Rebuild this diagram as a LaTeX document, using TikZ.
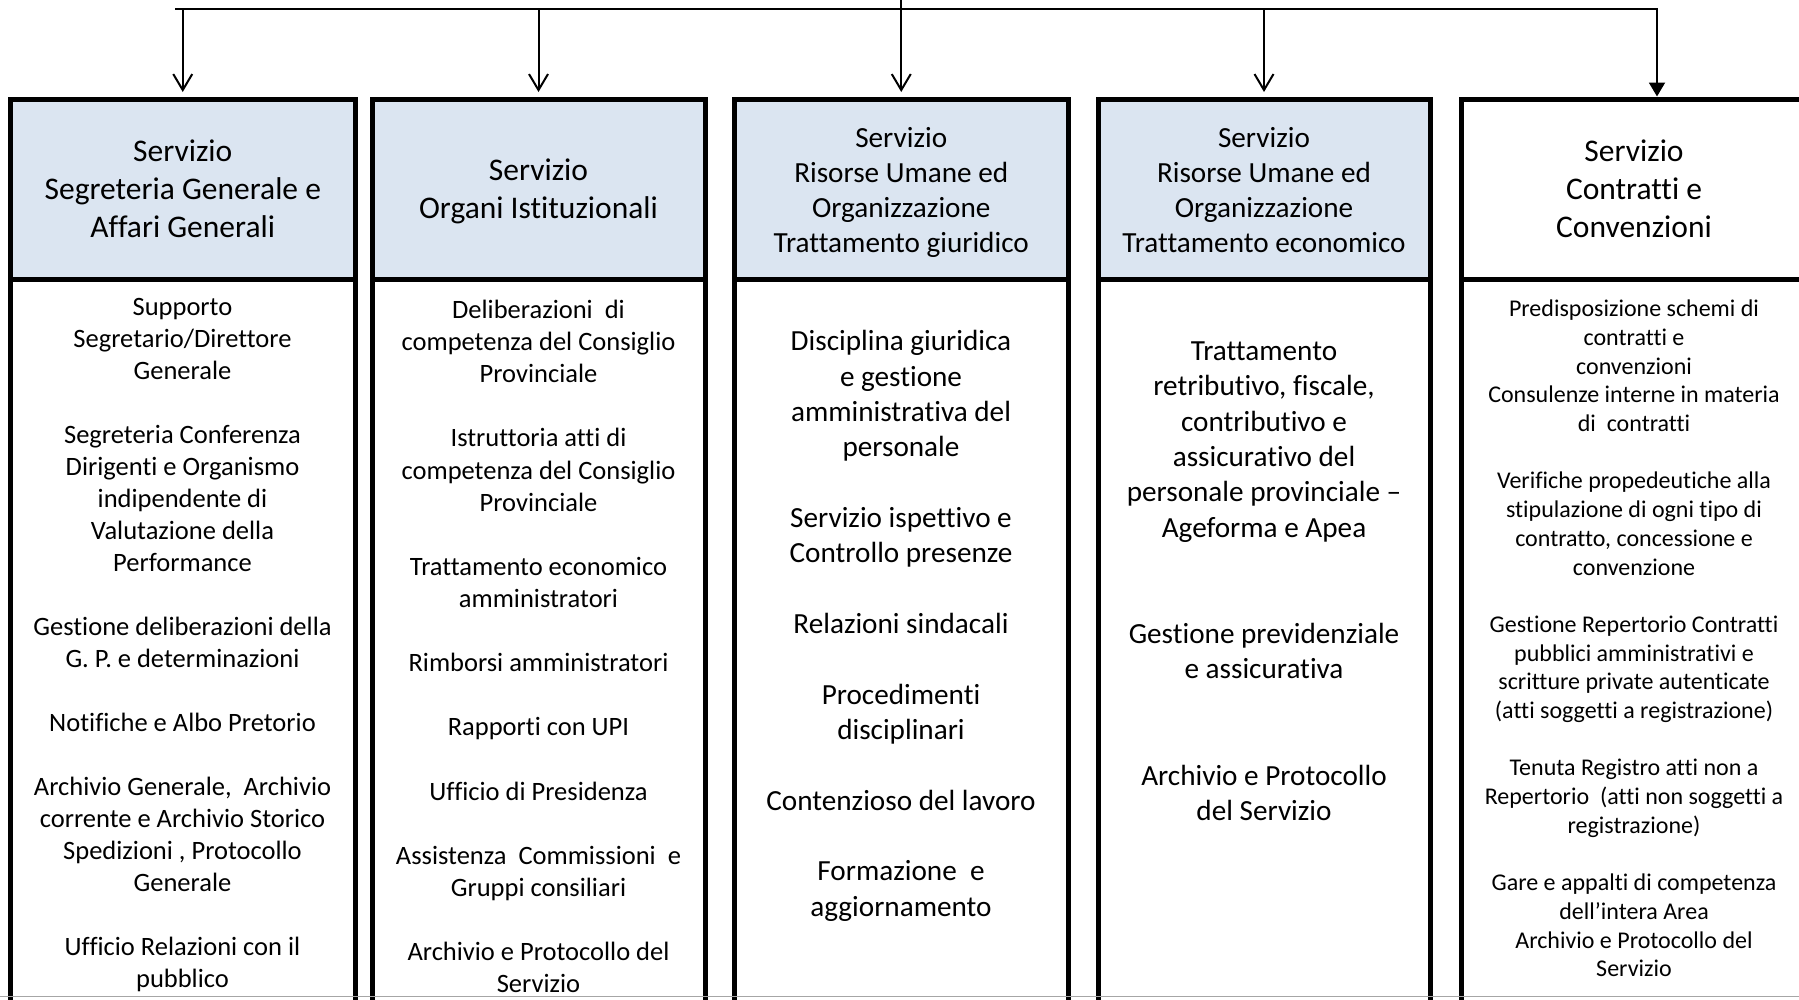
\documentclass[tikz,border=0pt]{standalone}
\usepackage{fontspec}
\setmainfont{Carlito}[Ligatures=NoCommon]
\usetikzlibrary{arrows.meta}
\definecolor{hdrblue}{RGB}{219,229,241}

\begin{document}
\begin{tikzpicture}[x=1pt,y=-1pt,
  boxline/.style={draw=black,line width=5pt},
  hdr/.style={boxline,fill=hdrblue,minimum height=180pt,inner sep=0pt,
    outer sep=0pt},
  hdrtext/.style={inner sep=0pt,align=center},
  hdrbig/.style={font=\fontsize{31.5}{38}\selectfont},
  hdrsmall/.style={font=\fontsize{29.2}{35.2}\selectfont},
  bodytext/.style={inner sep=0pt,align=center},
  conn/.style={draw=black,line width=2pt},
  openhead/.style={-{Straight Barb[length=16pt,width=19pt]},shorten >=7pt},
  fullhead/.style={-{Triangle[length=14pt,width=16pt]},shorten >=2.5pt}
]
\useasboundingbox (0,0) rectangle (1799,999);
\clip (0,0) rectangle (1799,999);

% header boxes of the five services
\node[hdr,minimum width=345.5pt] (hd1) at (182.75,189) {};
\node[hdr,minimum width=333pt] (hd2) at (538.5,189) {};
\node[hdr,minimum width=333.5pt] (hd3) at (901.25,189) {};
\node[hdr,minimum width=332pt] (hd4) at (1264,189) {};
\node[hdr,fill=white,minimum width=346pt] (hd5) at (1634,189) {};

% header titles
\node[hdrtext,hdrbig] (ht1) at (hd1.center)
  {Servizio\\Segreteria Generale e\\Affari Generali};
\node[hdrtext,hdrbig] (ht2) at ([yshift=-2.3pt]hd2.center)
  {Servizio\\Organi Istituzionali};
\node[hdrtext,hdrsmall] (ht3) at ([yshift=-3.4pt]hd3.center)
  {Servizio\\Risorse Umane ed\\Organizzazione\\Trattamento giuridico};
\node[hdrtext,hdrsmall] (ht4) at ([yshift=-1.2pt]hd4.center)
  {Servizio\\Risorse Umane ed\\Organizzazione\\Trattamento economico};
\node[hdrtext,hdrbig] (ht5) at (hd5.center)
  {Servizio\\Contratti e\\Convenzioni};

% body frames, running past the lower edge
\foreach \h/\w in {hd1/345.5,hd2/333,hd3/333.5,hd4/332,hd5/346}
  \draw[boxline] (\h.south west) rectangle ++(\w,800);

% body texts
\node[bodytext,font=\fontsize{26.5}{32}\selectfont] (bd1) at (182.5,644.8)
  {Supporto\\Segretario/Direttore\\Generale\\[32pt]
   Segreteria Conferenza\\Dirigenti e Organismo\\indipendente di\\Valutazione della\\Performance\\[32pt]
   Gestione deliberazioni della\\G. P. e determinazioni\\[32pt]
   Notifiche e Albo Pretorio\\[32pt]
   Archivio Generale,~ Archivio\\corrente e Archivio Storico\\Spedizioni , Protocollo\\Generale\\[32pt]
   Ufficio Relazioni con il\\pubblico};

\node[bodytext,font=\fontsize{26.5}{32.1}\selectfont] (bd2) at (538.5,646.5)
  {Deliberazioni~ di\\competenza del Consiglio\\Provinciale\\[32.1pt]
   Istruttoria atti di\\competenza del Consiglio\\Provinciale\\[32.1pt]
   Trattamento economico\\amministratori\\[32.1pt]
   Rimborsi amministratori\\[32.1pt]
   Rapporti con UPI\\[32.1pt]
   Ufficio di Presidenza\\[32.1pt]
   Assistenza~ Commissioni~ e\\Gruppi consiliari\\[32.1pt]
   Archivio e Protocollo del\\Servizio};

\node[bodytext,font=\fontsize{29.2}{35.35}\selectfont] (bd3) at (901,625.9)
  {Disciplina giuridica\\e gestione\\amministrativa del\\personale\\[35.35pt]
   Servizio ispettivo e\\Controllo presenze\\[35.35pt]
   Relazioni sindacali\\[35.35pt]
   Procedimenti\\disciplinari\\[35.35pt]
   Contenzioso del lavoro\\[35.35pt]
   Formazione~ e\\aggiornamento};

\node[bodytext,font=\fontsize{29.2}{35.4}\selectfont] (bd4) at (1264,581.2)
  {Trattamento\\retributivo, fiscale,\\contributivo e\\assicurativo del\\personale provinciale –\\Ageforma e Apea\\[70.8pt]
   Gestione previdenziale\\e assicurativa\\[70.8pt]
   Archivio e Protocollo\\del Servizio};

\node[bodytext,font=\fontsize{24}{28.7}\selectfont] (bd5) at (1634,638.5)
  {Predisposizione schemi di\\contratti e\\convenzioni\\Consulenze interne in materia\\di~ contratti\\[28.7pt]
   Verifiche propedeutiche alla\\stipulazione di ogni tipo di\\contratto, concessione e\\convenzione\\[28.7pt]
   Gestione Repertorio Contratti\\pubblici amministrativi e\\scritture private autenticate\\(atti soggetti a registrazione)\\[28.7pt]
   Tenuta Registro atti non a\\Repertorio~ (atti non soggetti a\\registrazione)\\[28.7pt]
   Gare e appalti di competenza\\dell’intera Area\\Archivio e Protocollo del\\Servizio};

% distribution line from above
\coordinate (feed) at (901,-5);
\coordinate (busL) at (175,8.5);
\coordinate (busR) at (1657,8.5);
\draw[conn] (feed) -- (feed |- busL);
\draw[conn,fullhead] (busL) -- (busR) -- (busR |- hd5.north);
\foreach \h in {hd1,hd2,hd3,hd4}
  \draw[conn,openhead] (\h.north |- busL) -- (\h.north);

% lower page edge
\draw[gray!70,line width=1pt] (0,996.5) -- (1799,996.5);
\end{tikzpicture}
\end{document}
